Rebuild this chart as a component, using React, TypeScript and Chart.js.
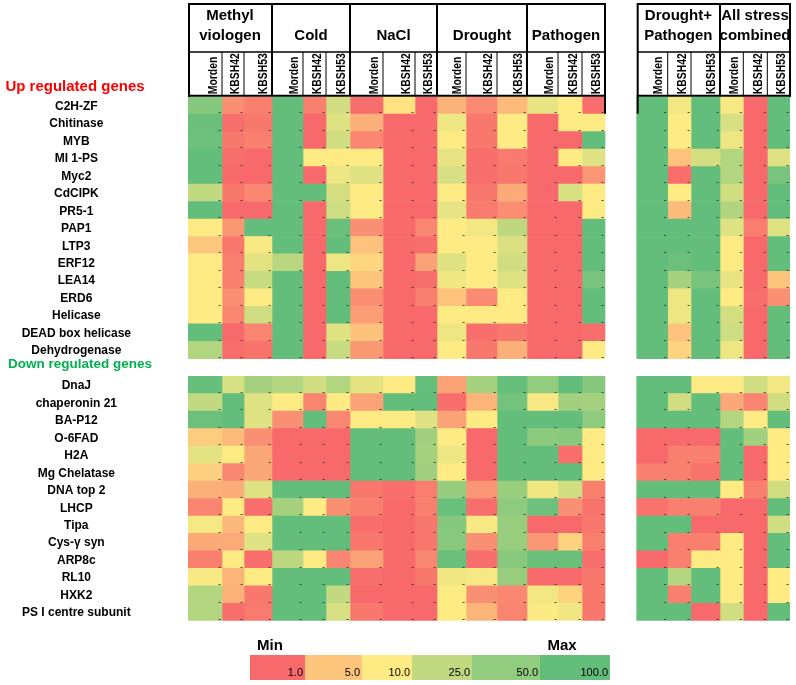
import React, { useEffect, useRef } from 'react';
import { Chart, registerables } from 'chart.js';

Chart.register(...registerables);

// ---------------- data ----------------
const UP_HEADING = 'Up regulated genes';
const DOWN_HEADING = 'Down regulated genes';

const UP_GENES = ['C2H-ZF', 'Chitinase', 'MYB', 'MI 1-PS', 'Myc2', 'CdCIPK', 'PR5-1', 'PAP1', 'LTP3', 'ERF12', 'LEA14', 'ERD6', 'Helicase', 'DEAD box helicase', 'Dehydrogenase'];
const DOWN_GENES = ['DnaJ', 'chaperonin 21', 'BA-P12', 'O-6FAD', 'H2A', 'Mg Chelatase', 'DNA top 2', 'LHCP', 'Tipa', 'Cys-\u03b3 syn', 'ARP8c', 'RL10', 'HXK2', 'PS I centre subunit'];

const CONDITIONS = [['Methyl', 'viologen'], ['Cold'], ['NaCl'], ['Drought'], ['Pathogen'], ['Drought+', 'Pathogen'], ['All stress', 'combined']];
const GENOTYPES = ['Morden', 'KBSH42', 'KBSH53'];

const LEGEND_VALUES = [1, 5, 10, 25, 50, 100];
const LEGEND_LABELS = ['1.0', '5.0', '10.0', '25.0', '50.0', '100.0'];

// columns: MV(M,42,53) Cold(...) NaCl(...) Drought(...) Pathogen(...) | Drought+Pathogen(...) All stress(...)
const UP_VALUES = [
  [60, 2, 1.5, 100, 1.5, 20, 1.1, 8.5, 1, 3.7, 1.8, 4.2, 14, 10, 1.1, 100, 12, 100, 11.5, 1, 100],
  [90, 1.1, 1.3, 100, 1, 16, 3.5, 1, 1, 13, 1.3, 10, 1, 10, 10, 100, 10, 100, 18, 1, 100],
  [85, 1.3, 1.5, 100, 1, 20, 1.7, 1, 1, 10, 1.3, 10, 1, 1, 100, 100, 10, 100, 13, 1, 100],
  [100, 1.1, 1, 100, 10, 10, 10, 1, 1, 14, 1.1, 1.35, 1, 10, 16, 100, 4.8, 19, 31, 1, 16],
  [100, 1, 1, 100, 1, 13, 16, 1, 1, 18, 1.1, 1.3, 1, 1, 2.2, 100, 1.1, 100, 31, 1, 72],
  [25, 1.3, 1.7, 100, 100, 19, 10, 1, 1, 10, 1.3, 3.2, 1, 18, 10, 100, 10, 100, 20, 1, 100],
  [100, 1, 1, 100, 1, 21, 10, 1, 1, 14.5, 1.35, 1.9, 1, 1, 10, 100, 4.2, 100, 32, 1, 100],
  [10, 2.3, 100, 100, 1, 90, 2, 1, 1.7, 10, 12, 26, 1, 1, 100, 100, 100, 100, 16, 1.45, 16],
  [5.4, 1.3, 11, 100, 1, 100, 4.8, 1, 1.1, 10, 10, 17, 1, 1, 100, 100, 100, 100, 10, 1, 100],
  [10, 1.5, 15, 28, 1, 13, 7, 1, 2.8, 16, 10, 20, 1, 1, 100, 100, 88, 100, 10, 1, 100],
  [10, 1.5, 23, 100, 1, 100, 5, 1, 1.1, 12.5, 10, 16, 1, 1, 72, 100, 37, 72, 14, 1, 5],
  [10, 2, 10, 100, 1, 100, 1.9, 1, 1.5, 4.9, 1.8, 10, 1, 1, 100, 100, 13, 100, 10, 1.1, 2],
  [10, 1.7, 20, 100, 1, 100, 2.5, 1, 1, 10, 10, 10, 1, 1, 100, 100, 13, 100, 19, 1, 100],
  [100, 1, 1.6, 100, 1, 16, 4.8, 1, 1, 13, 1.1, 1.3, 1, 1, 1.1, 100, 4.8, 100, 21, 1, 100],
  [31, 1.1, 1.2, 100, 1, 23, 2.3, 1, 1, 10, 1.3, 3.5, 1, 1, 10, 100, 6.5, 100, 13, 1, 100],
];

const DOWN_VALUES = [
  [95, 18, 37, 30, 20, 31, 15, 10, 97, 2.8, 38, 97, 50, 100, 60, 100, 100, 10, 10, 20, 12],
  [25, 100, 16, 10, 1.6, 10, 2.8, 100, 100, 1.1, 3.8, 78, 11, 39, 38, 100, 20, 100, 3, 1.6, 20],
  [88, 100, 16, 2, 100, 1.7, 10, 10, 16, 2.8, 10, 100, 100, 100, 52, 100, 100, 100, 30, 10, 100],
  [5.8, 4.3, 2, 1, 1, 1, 100, 100, 39, 10, 1, 100, 55, 57, 10, 1, 1, 1, 100, 40, 10],
  [15, 10, 3, 1, 1, 1, 100, 100, 37, 13, 1, 100, 100, 1.1, 10, 1, 1.5, 1.5, 100, 1, 10],
  [6.2, 1.7, 3, 1, 1, 1, 100, 100, 39, 10, 1, 100, 100, 100, 10, 1.5, 1.5, 1.2, 100, 1, 10],
  [3.5, 3.3, 16, 100, 100, 100, 1.3, 1.1, 1.45, 48, 2.2, 45, 12.5, 20, 1.5, 100, 100, 100, 10, 1.5, 20],
  [1.6, 10, 1.1, 38, 10, 2, 1.5, 1, 1.5, 92, 1.1, 52, 86, 2, 1.2, 1.2, 1.5, 1.5, 1, 1, 100],
  [11.5, 4.1, 10, 100, 100, 100, 1.1, 1, 1.3, 60, 11, 46, 1, 1, 1.3, 100, 100, 1, 1, 1, 20],
  [3.1, 3.2, 16, 100, 100, 100, 1.3, 1, 1.3, 58, 2, 46, 2.2, 6.5, 1.5, 100, 1.5, 1.5, 10, 1, 100],
  [1.5, 10, 1.1, 27, 10, 1.6, 2.8, 1, 1.7, 90, 1.1, 58, 90, 90, 1.1, 1, 1.5, 10, 10, 1, 100],
  [11, 3.8, 10, 100, 100, 100, 1.1, 1, 1.3, 12.5, 11.5, 46, 1, 1, 1.3, 100, 30, 100, 10, 1, 10],
  [30, 3.6, 1.3, 100, 100, 25, 1, 1, 1, 10, 2, 1.7, 12, 6.5, 1.3, 100, 1.5, 100, 10, 1, 10],
  [31, 1.1, 1.35, 100, 100, 18, 1.3, 1, 1, 10, 3.8, 1.6, 10.5, 12.5, 1.3, 100, 100, 1, 20, 1, 100],
];

// ---------------- layout (pixels) ----------------
const W = 796;
const H = 685;
const PLOT_LEFT = 188;
const PLOT_RIGHT = 790;
const PLOT_TOP = 96.7;
const PLOT_BOTTOM = 626.7;
const COL_W = [34, 22, 28, 31, 23, 24, 33, 32, 22, 29, 31, 30, 31, 24, 23, 31, 23.3, 29, 23.3, 24, 22.7];
const BLOCK_BREAK = 15; // first column of right block
const BLOCK_GAP = 31.7;
const HEAD_TOP = 4;
const HEAD_MID = 52;
const LEG_X = [250, 305, 362, 412, 472, 540, 610];
const LEG_Y = 655;
const LEG_H = 25;

const FONT = '"Liberation Sans", Arial, sans-serif';

const colStart: number[] = [];
const colEnd: number[] = [];
{
  let x = 0;
  COL_W.forEach((w, i) => {
    if (i === BLOCK_BREAK) x += BLOCK_GAP;
    colStart.push(x);
    x += w;
    colEnd.push(x);
  });
}
const X_MAX = PLOT_RIGHT - PLOT_LEFT;

const RED = [248, 105, 107];
const YEL = [255, 235, 132];
const GRN = [99, 190, 123];
function colorFor(v: number): string {
  const t = Math.max(0, Math.min(1, Math.log10(v) / 2));
  let a = RED, b = YEL, f = t * 2;
  if (t >= 0.5) { a = YEL; b = GRN; f = (t - 0.5) * 2; }
  const c = a.map((av, k) => Math.round(av + (b[k] - av) * f));
  return `rgb(${c[0]},${c[1]},${c[2]})`;
}

const ROW_LABELS = [...UP_GENES, '', ...DOWN_GENES];
const ROW_VALUES: (number[] | null)[] = [...UP_VALUES, null, ...DOWN_VALUES];
const GROUP_COLS = CONDITIONS.map((_, g) => [g * 3, g * 3 + 1, g * 3 + 2]);

const tablePlugin = {
  id: 'tableDecor',
  afterDatasetsDraw(chart: any) {
    const ctx = chart.ctx;
    // small dashes in every cell
    ctx.save();
    ctx.fillStyle = '#333';
    ctx.font = 'bold 8px ' + FONT;
    ctx.textAlign = 'right';
    ctx.textBaseline = 'alphabetic';
    chart.data.datasets.forEach((_: any, di: number) => {
      const meta = chart.getDatasetMeta(di);
      meta.data.forEach((el: any, i: number) => {
        if (ROW_VALUES[i] == null) return;
        const right = Math.max(el.x, el.base);
        ctx.fillText('-', right - 1.2, el.y + el.height / 2 + 0.3);
      });
    });
    ctx.restore();
  },
  afterDraw(chart: any) {
    const ctx = chart.ctx;
    const xs = chart.scales.x;
    const ys = chart.scales.y;
    const bot = chart.chartArea.top;
    const px = (v: number) => xs.getPixelForValue(v);
    ctx.save();
    ctx.strokeStyle = '#000';
    ctx.fillStyle = '#000';

    const line = (x1: number, y1: number, x2: number, y2: number, w: number) => {
      ctx.lineWidth = w;
      ctx.beginPath();
      ctx.moveTo(x1, y1);
      ctx.lineTo(x2, y2);
      ctx.stroke();
    };

    const blocks = [
      { first: 0, last: BLOCK_BREAK - 1, extendRight: true },
      { first: BLOCK_BREAK, last: COL_W.length - 1, extendRight: false },
    ];
    blocks.forEach((b) => {
      const L = px(colStart[b.first]) + 1;
      const R = px(colEnd[b.last]);
      line(L - 1, HEAD_TOP, R + 1, HEAD_TOP, 2);
      line(L, HEAD_TOP, L, b.extendRight ? bot : bot + 17, 2);
      line(R, HEAD_TOP, R, b.extendRight ? bot + 17 : bot, 2);
      line(L, HEAD_MID, R, HEAD_MID, 1.5);
      line(L - 1, bot - 1, R + 1, bot - 1, 2);
      for (let c = b.first + 1; c <= b.last; c++) {
        const x = px(colStart[c]);
        const isGroup = c % 3 === 0;
        line(x, isGroup ? HEAD_TOP : HEAD_MID, x, bot - 1, isGroup ? 2 : 1);
      }
    });

    // group labels
    ctx.font = 'bold 15px ' + FONT;
    ctx.textAlign = 'center';
    ctx.textBaseline = 'middle';
    CONDITIONS.forEach((lines, g) => {
      const cols = GROUP_COLS[g];
      const cx = (px(colStart[cols[0]]) + px(colEnd[cols[2]])) / 2;
      if (lines.length === 2) {
        ctx.fillText(lines[0], cx, 16);
        ctx.fillText(lines[1], cx, 36);
      } else {
        ctx.fillText(lines[0], cx, 36);
      }
    });

    // genotype labels (rotated)
    ctx.font = 'bold 13px ' + FONT;
    ctx.textAlign = 'left';
    ctx.textBaseline = 'middle';
    COL_W.forEach((_, c) => {
      const x = px(colEnd[c]) - 9;
      ctx.save();
      ctx.translate(x, bot - 2.5);
      ctx.rotate(-Math.PI / 2);
      ctx.scale(0.8, 1);
      ctx.fillText(GENOTYPES[c % 3], 0, 0);
      ctx.restore();
    });

    // section headings
    ctx.font = 'bold 15px ' + FONT;
    ctx.fillStyle = '#FF0000';
    ctx.textAlign = 'center';
    ctx.textBaseline = 'alphabetic';
    ctx.fillText(UP_HEADING, 75, 90.5);
    ctx.font = 'bold 13.5px ' + FONT;
    ctx.fillStyle = '#00B050';
    ctx.textBaseline = 'middle';
    ctx.fillText(DOWN_HEADING, 80, ys.getPixelForValue(UP_GENES.length) - 3.5);

    // colour legend
    LEGEND_VALUES.forEach((v, i) => {
      ctx.fillStyle = colorFor(v);
      ctx.fillRect(LEG_X[i], LEG_Y, LEG_X[i + 1] - LEG_X[i], LEG_H);
    });
    ctx.fillStyle = '#000';
    ctx.font = '11px ' + FONT;
    ctx.textAlign = 'right';
    ctx.textBaseline = 'alphabetic';
    LEGEND_LABELS.forEach((t, i) => {
      ctx.fillText(t, LEG_X[i + 1] - 2, LEG_Y + LEG_H - 4);
    });
    ctx.font = 'bold 15px ' + FONT;
    ctx.textAlign = 'center';
    ctx.fillText('Min', 270, 650);
    ctx.fillText('Max', 562, 650);
    ctx.restore();
  },
};

export default function App() {
  const ref = useRef<HTMLCanvasElement | null>(null);
  useEffect(() => {
    if (!ref.current) return;
    const datasets = COL_W.map((_, c) => ({
      label: GENOTYPES[c % 3],
      data: ROW_VALUES.map((row) => (row ? [colStart[c], colEnd[c]] : null)),
      backgroundColor: ROW_VALUES.map((row) => (row ? colorFor(row[c]) : 'rgba(0,0,0,0)')),
      borderWidth: 0,
      grouped: false,
      barPercentage: 1,
      categoryPercentage: 1,
    }));
    const chart = new Chart(ref.current, {
      type: 'bar',
      data: { labels: ROW_LABELS, datasets: datasets as any },
      options: {
        indexAxis: 'y',
        responsive: false,
        devicePixelRatio: 1,
        animation: false,
        events: [],
        layout: { padding: { top: PLOT_TOP, bottom: H - PLOT_BOTTOM, left: 0, right: W - PLOT_RIGHT } },
        plugins: { legend: { display: false }, tooltip: { enabled: false } },
        scales: {
          x: { type: 'linear', min: 0, max: X_MAX, display: false },
          y: {
            type: 'category',
            grid: { display: false, drawTicks: false },
            border: { display: false },
            ticks: {
              autoSkip: false,
              crossAlign: 'center',
              padding: 57,
              labelOffset: 1,
              color: '#000',
              font: { family: FONT, weight: 'bold', size: 12 },
            },
            afterFit: (s: any) => { s.width = PLOT_LEFT; },
          },
        },
      } as any,
      plugins: [tablePlugin],
    });
    return () => chart.destroy();
  }, []);
  return (
    <div style={{ position: 'fixed', left: 0, top: 0, width: W, height: H, background: '#fff' }}>
      <canvas ref={ref} width={W} height={H} style={{ display: 'block' }} />
    </div>
  );
}
